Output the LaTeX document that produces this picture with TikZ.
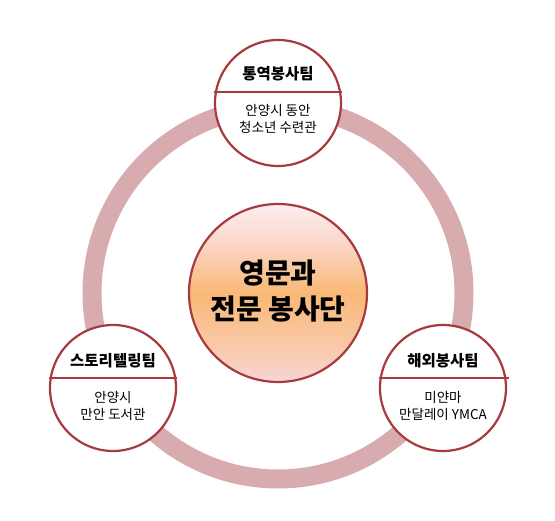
\documentclass[tikz,border=0pt]{standalone}
\usepackage{fontspec}
\newfontfamily\kr{Noto Sans CJK KR}
\definecolor{ringc}{RGB}{216,172,174}
\definecolor{edgec}{RGB}{166,58,62}
\definecolor{shB}{RGB}{247,214,214}
\definecolor{shC}{RGB}{249,200,165}
\definecolor{shO}{RGB}{249,184,118}
\definecolor{shD}{RGB}{251,214,200}
\definecolor{shT}{RGB}{253,238,242}
\pgfdeclareverticalshading{centreshade}{100bp}{color(0bp)=(shB); color(25bp)=(shB); color(36bp)=(shC); color(50bp)=(shO); color(64bp)=(shD); color(75bp)=(shT); color(100bp)=(shT)}
\tikzset{
  sat/.style={circle, draw=edgec, line width=2.2pt, fill=white, minimum size=126pt, inner sep=0pt},
  hub/.style={circle, draw=edgec, line width=2.2pt, shading=centreshade, minimum size=178pt, inner sep=0pt},
  divider/.style={edgec, line width=2pt},
  titletxt/.style={font=\kr\bfseries\fontsize{15.5}{18}\selectfont, text=black},
  subtxt/.style={font=\kr\fontsize{13.5}{16.5}\selectfont, align=center, text=black},
  hubtxt/.style={font=\kr\bfseries\fontsize{28}{36}\selectfont, align=center, text=black}
}
\begin{document}
\begin{tikzpicture}[x=1pt,y=-1pt]
\useasboundingbox (0,0) rectangle (555,521);
\coordinate (c) at (278,293);
\draw[ringc, line width=19pt] (c) circle[radius=186pt];
\node[hub] (hub) at (c) {};
\node[hubtxt] (hubtext) at (278,291) {영문과\\전문 봉사단};
\node[sat] (t) at (278,103) {};
\node[sat] (l) at (113,388) {};
\node[sat] (r) at (443,388) {};
\draw[divider] ([yshift=11pt]t.west) -- ([yshift=11pt]t.east);
\draw[divider] ([yshift=10pt]l.west) -- ([yshift=10pt]l.east);
\draw[divider] ([yshift=10pt]r.west) -- ([xshift=2pt,yshift=10pt]r.east);
\node[titletxt] (tt) at (278,74) {통역봉사팀};
\node[subtxt] (ts) at (278,119) {안양시 동안\\청소년 수련관};
\node[titletxt] (lt) at (113,361) {스토리텔링팀};
\node[subtxt] (ls) at (113,406) {안양시\\만안 도서관};
\node[titletxt] (rt) at (443,361) {해외봉사팀};
\node[subtxt] (rs) at (443,406) {미얀마\\만달레이 YMCA};
\end{tikzpicture}
\end{document}
